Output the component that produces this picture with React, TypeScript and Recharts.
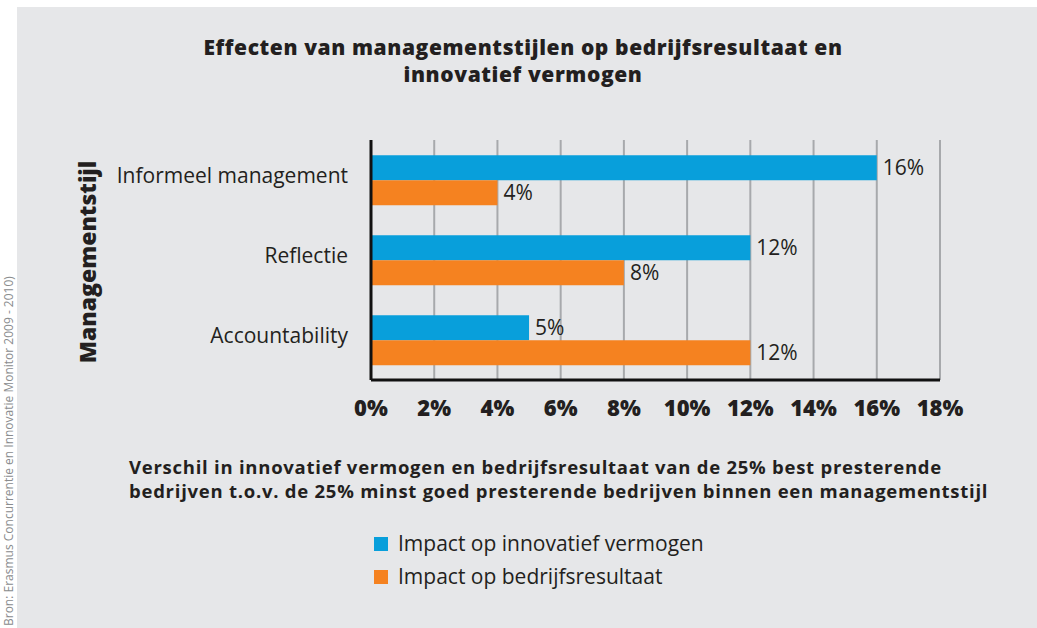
import { BarChart, Bar, XAxis, YAxis, CartesianGrid, LabelList } from 'recharts'

const categories = ['Informeel management', 'Reflectie', 'Accountability']
const innovatiefVermogen = [16, 12, 5]
const bedrijfsresultaat = [4, 8, 12]
const xTicks = [0, 2, 4, 6, 8, 10, 12, 14, 16, 18]

const series = [
  { key: 'innovatief', name: 'Impact op innovatief vermogen', color: '#089fdb' },
  { key: 'bedrijf', name: 'Impact op bedrijfsresultaat', color: '#f58220' },
]

const titleLines = ['Effecten van managementstijlen op bedrijfsresultaat en', 'innovatief vermogen']
const subtitleLines = [
  'Verschil in innovatief vermogen en bedrijfsresultaat van de 25% best presterende',
  'bedrijven t.o.v. de 25% minst goed presterende bedrijven binnen een managementstijl',
]
const source = 'Bron: Erasmus Concurrentie en Innovatie Monitor 2009 - 2010)'

const data = categories.map((name, i) => ({
  name,
  innovatief: innovatiefVermogen[i],
  bedrijf: bedrijfsresultaat[i],
}))

const FONT = '"Open Sans", "DejaVu Sans", sans-serif'
const INK = '#231f20'

const App = () => {
  return (
    <div style={{ position: 'absolute', left: 0, top: 0, width: 1037, height: 628, background: '#fff', fontFamily: FONT }}>
      <div style={{ position: 'absolute', left: 17, top: 7, width: 1020, height: 621, background: '#e6e7e9' }} />
      <div style={{ position: 'absolute', left: 0, top: 0 }}>
        <BarChart
          width={1037}
          height={628}
          data={data}
          layout="vertical"
          margin={{ top: 140, right: 97, bottom: 208, left: 0 }}
          barGap={0}
          barCategoryGap="19%"
        >
          <CartesianGrid horizontal={false} stroke="#a7a9ac" strokeWidth={2} />
          <XAxis
            type="number"
            domain={[0, 18]}
            ticks={xTicks}
            height={40}
            tickFormatter={(v: number) => `${v}%`}
            axisLine={{ stroke: '#111', strokeWidth: 3 }}
            tickLine={false}
            tickSize={0}
            tickMargin={20}
            tick={{ fill: INK, fontSize: 22, fontWeight: 800, fontFamily: FONT }}
            interval={0}
          />
          <YAxis
            type="category"
            dataKey="name"
            width={371}
            axisLine={{ stroke: '#111', strokeWidth: 3 }}
            tickLine={false}
            tickSize={0}
            tickMargin={23}
            tick={{ fill: INK, fontSize: 21, fontFamily: FONT, dy: -4 }}
          />
          {series.map(s => (
            <Bar key={s.key} dataKey={s.key} name={s.name} fill={s.color} isAnimationActive={false}>
              <LabelList
                dataKey={s.key}
                position="right"
                offset={6}
                formatter={(v: any) => `${v}%`}
                style={{ fill: INK, fontSize: 21, fontFamily: FONT }}
              />
            </Bar>
          ))}
        </BarChart>
      </div>
      <svg width={1037} height={628} style={{ position: 'absolute', left: 0, top: 0, pointerEvents: 'none' }}>
        {titleLines.map((t, i) => (
          <text key={t} x={523} y={55 + i * 27} textAnchor="middle" fontSize={21} fontWeight={800} letterSpacing={0.6} fill={INK} fontFamily={FONT}>
            {t}
          </text>
        ))}
        <text
          transform="translate(96, 262) rotate(-90)"
          textAnchor="middle"
          fontSize={23}
          fontWeight={800}
          fill={INK}
          fontFamily={FONT}
        >
          Managementstijl
        </text>
        {subtitleLines.map((t, i) => (
          <text key={t} x={129} y={474 + i * 24} fontSize={18.5} fontWeight={700} letterSpacing={0.75} fill={INK} fontFamily={FONT}>
            {t}
          </text>
        ))}
        {series.map((s, i) => (
          <g key={s.key}>
            <rect x={374} y={537 + i * 33} width={14} height={14} fill={s.color} />
            <text x={398} y={551 + i * 33} fontSize={21} fill={INK} fontFamily={FONT}>
              {s.name}
            </text>
          </g>
        ))}
        <text transform="translate(13, 626) rotate(-90)" fontSize={12} fill="#8a8c8e" fontFamily={FONT}>
          {source}
        </text>
      </svg>
    </div>
  )
}

export default App
